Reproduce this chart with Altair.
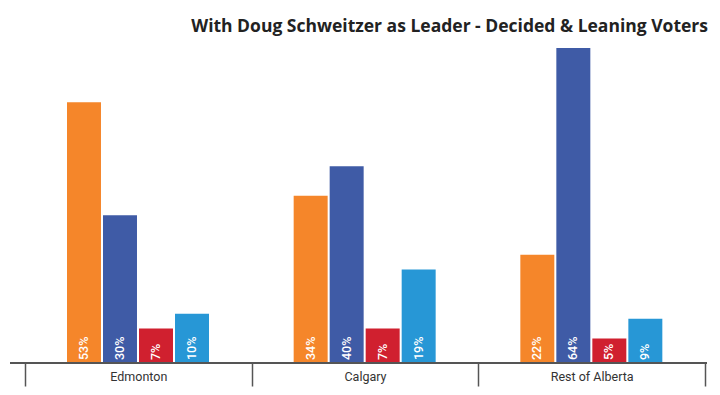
import altair as alt
import pandas as pd

regions = ["Edmonton", "Calgary", "Rest of Alberta"]
parties = ["NDP", "UCP", "Liberal", "Alberta Party"]
colors = ["#F5862A", "#3F5BA6", "#D0202F", "#2797D6"]
edmonton = [53, 30, 7, 10]
calgary = [34, 40, 7, 19]
rest = [22, 64, 5, 9]

rows = []
for reg, vals in zip(regions, [edmonton, calgary, rest]):
    for p, v in zip(parties, vals):
        rows.append({"region": reg, "party": p, "value": v, "label": f"{v}%"})
df = pd.DataFrame(rows)

W, H = 697, 315

x = alt.X("region:N", sort=regions, title=None,
          scale=alt.Scale(range=[15, 695], paddingInner=0, paddingOuter=0),
          axis=alt.Axis(domain=False, tickBand="extent", tickSize=23, tickWidth=1.5,
                        tickColor="#555555", labelAngle=0, labelPadding=-16,
                        labelFont="Roboto", labelFontSize=12.5, labelColor="#333333"))
xo = alt.XOffset("party:N", sort=parties,
                 scale=alt.Scale(range=[42, 184], paddingInner=0.056, paddingOuter=0))
y = alt.Y("value:Q", scale=alt.Scale(domain=[0, 64]), axis=None)

base = alt.Chart(df)
bars = base.mark_bar().encode(
    x=x, xOffset=xo, y=y,
    color=alt.Color("party:N", sort=parties,
                    scale=alt.Scale(domain=parties, range=colors), legend=None),
)
labels = base.mark_text(angle=270, align="left", baseline="middle", dx=3,
                        color="white", font="Roboto", fontSize=12.5, fontWeight=500).encode(
    x=x, xOffset=xo, y=alt.Y("zero:Q", scale=alt.Scale(domain=[0, 64]), axis=None),
    text="label:N",
).transform_calculate(zero="0")
baseline = alt.Chart(pd.DataFrame({"v": [0]})).mark_rule(color="#555555", strokeWidth=2).encode(
    x=alt.value(0), x2=alt.value(W),
    y=alt.Y("v:Q", scale=alt.Scale(domain=[0, 64]), axis=None),
)

chart = alt.layer(bars, labels, baseline).properties(
    width=W, height=H,
    padding={"left": 2, "top": 40, "right": 2, "bottom": 24},
    autosize="none",
    title=alt.TitleParams("With Doug Schweitzer as Leader - Decided & Leaning Voters",
                          anchor="end", font="Open Sans", fontSize=17.5, fontWeight="bold",
                          color="#222222", offset=13),
).configure_view(stroke=None)

chart.save("out.html", embed_options={"renderer": "svg", "actions": False})
